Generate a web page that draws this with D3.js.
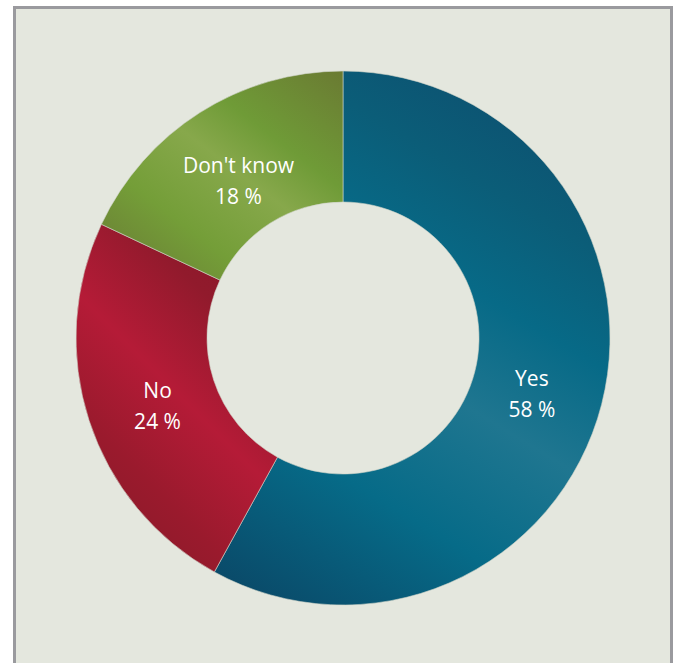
<!DOCTYPE html>
<html>
<head>
<meta charset="utf-8">
<script src="https://cdn.jsdelivr.net/npm/d3@7"></script>
<style>
  html, body { margin: 0; padding: 0; background: #ffffff; }
  svg { display: block; }
</style>
</head>
<body>
<svg id="chart" width="677" height="663"></svg>
<script>
// ---- data ----
const categories = ["Yes", "No", "Don't know"];
const values = [58, 24, 18];
const valueLabels = ["58 %", "24 %", "18 %"];

// ---- styling (not data) ----
const gradients = [
  { id: "gYes", x1: 140, y1: -231, x2: -140, y2: 231,
    stops: [[0, "#0c5573"], [0.12, "#0b5d78"], [0.3, "#076a87"], [0.49, "#1f7690"], [0.72, "#066b88"], [1, "#0a4a69"]] },
  { id: "gNo", x1: 0, y1: 0, x2: -212, y2: 212,
    stops: [[0, "#8a192b"], [0.22, "#911a2c"], [0.52, "#b51b37"], [0.8, "#9a1a2d"], [1, "#8d1a2a"]] },
  { id: "gDK", x1: 139, y1: -183, x2: -48, y2: 64,
    stops: [[0, "#687530"], [0.1, "#6b7f33"], [0.36, "#6f9b37"], [0.52, "#87a84b"], [0.76, "#749e38"], [0.92, "#6e8a36"], [1, "#6a8034"]] }
];

const svg = d3.select("#chart");
const W = 677, H = 663;

// frame
svg.append("rect")
  .attr("x", 14.5).attr("y", 7.5)
  .attr("width", 657).attr("height", 680)
  .attr("fill", "#e4e7de")
  .attr("stroke", "#9a9a9e")
  .attr("stroke-width", 3);

const cx = 343, cy = 338;
const outerR = 267, innerR = 136;

const defs = svg.append("defs");
gradients.forEach(g => {
  const lg = defs.append("linearGradient")
    .attr("id", g.id)
    .attr("gradientUnits", "userSpaceOnUse")
    .attr("x1", g.x1).attr("y1", g.y1)
    .attr("x2", g.x2).attr("y2", g.y2);
  g.stops.forEach(s => lg.append("stop").attr("offset", s[0]).attr("stop-color", s[1]));
});

const data = categories.map((c, i) => ({ cat: c, value: values[i], label: valueLabels[i], grad: gradients[i].id }));

const pie = d3.pie().value(d => d.value).sort(null);
const arc = d3.arc().innerRadius(innerR).outerRadius(outerR);
const labelArc = d3.arc().innerRadius(123).outerRadius(267);

const g = svg.append("g").attr("transform", `translate(${cx},${cy})`);
const arcs = pie(data);

g.selectAll("path.slice")
  .data(arcs)
  .join("path")
  .attr("class", "slice")
  .attr("d", arc)
  .attr("fill", d => `url(#${d.data.grad})`)
  .attr("stroke", "#cfd3c8")
  .attr("stroke-width", 0.6);

const labels = g.selectAll("text.lbl")
  .data(arcs)
  .join("text")
  .attr("class", "lbl")
  .attr("transform", d => `translate(${labelArc.centroid(d)})`)
  .attr("text-anchor", "middle")
  .attr("fill", "#ffffff")
  .style("font-family", "'Open Sans', 'Noto Sans', sans-serif")
  .style("font-size", "21px");

labels.append("tspan").attr("x", 0).attr("y", 0).text(d => d.data.cat);
labels.append("tspan").attr("x", 0).attr("y", 31).text(d => d.data.label);
</script>
</body>
</html>
